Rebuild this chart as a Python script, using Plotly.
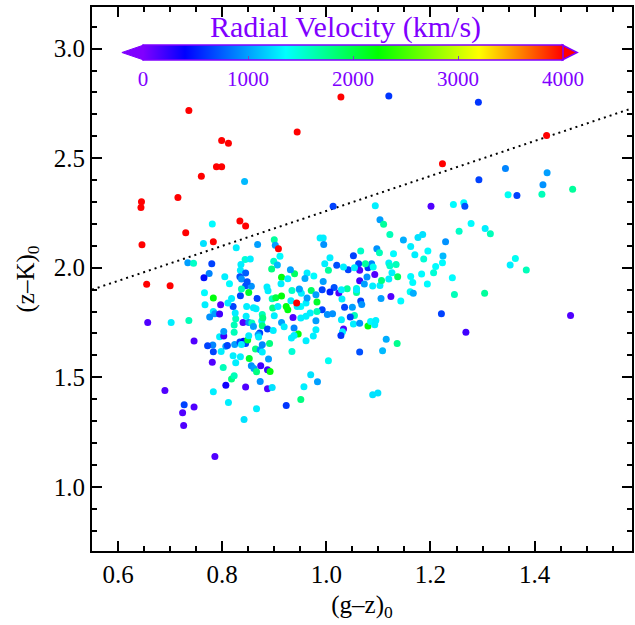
import plotly.graph_objects as go

# ---------------- data: (g-z)_0, (z-K)_0, radial velocity (km/s) ----------------
red_gz = [1.028, 0.736, 0.944, 0.799, 0.812, 0.789, 0.799, 0.760, 0.645, 0.715, 0.644,
          0.834, 0.845, 0.730, 0.646, 0.783, 0.908, 0.655, 0.700, 0.943, 1.223, 1.423]
red_zk = [2.779, 2.718, 2.620, 2.581, 2.568, 2.461, 2.461, 2.417, 2.301, 2.320, 2.275,
          2.213, 2.190, 2.160, 2.105, 2.119, 2.087, 1.924, 1.918, 1.839, 2.475, 2.604]
red_rv = [4000, 4000, 4000, 4000, 4000, 4000, 4000, 4000, 4000, 4000, 4000,
          4000, 4000, 4000, 4000, 4000, 4000, 4000, 4000, 4000, 4000, 4000]

ur_gz = [1.120, 1.292, 1.344, 1.424, 1.293, 1.416, 1.473, 1.349, 1.366, 1.414,
         1.201, 1.244, 1.264, 1.266, 1.094, 1.103, 1.110, 1.122, 1.278, 1.305,
         1.315, 1.255, 1.148, 1.162, 1.176, 1.185, 1.229, 1.195, 1.170, 1.224,
         1.187, 1.223, 1.210, 1.206, 1.183, 1.162, 1.166, 1.194, 1.242, 1.353,
         1.363, 1.384, 1.161, 1.167, 1.246, 1.304, 1.143, 1.124, 1.105]
ur_zk = [2.784, 2.755, 2.453, 2.434, 2.402, 2.379, 2.358, 2.333, 2.330, 2.335,
         2.280, 2.289, 2.297, 2.280, 2.283, 2.219, 2.198, 2.152, 2.202, 2.179,
         2.155, 2.166, 2.126, 2.097, 2.138, 2.152, 2.119, 2.076, 2.059, 2.053,
         2.040, 2.023, 2.006, 1.977, 1.971, 1.960, 1.933, 1.926, 1.954, 2.012,
         2.042, 1.990, 1.890, 1.883, 1.878, 1.883, 1.848, 1.869, 1.860]
ur_rv = [600, 600, 900, 1000, 650, 950, 1700, 1400, 650, 1600,
         150, 1350, 1350, 700, 1300, 1000, 1700, 1600, 1350, 1300,
         1600, 1550, 1050, 1300, 1250, 1250, 950, 1350, 1300, 1100,
         1500, 1350, 1350, 1500, 1350, 1350, 1350, 1350, 1350, 1300,
         1400, 1600, 1400, 1050, 1600, 1700, 1350, 150, 1000]

lr_gz = [1.469, 1.221, 1.268, 1.115, 1.136, 1.064, 1.108, 1.089, 1.099, 1.064,
         1.058, 1.058, 1.073, 1.089, 1.103, 1.050, 1.054, 1.066, 1.068, 1.046,
         1.052, 1.064, 1.080, 1.085, 1.093, 1.095, 1.035, 1.029, 1.033, 1.031, 1.028]
lr_zk = [1.782, 1.790, 1.705, 1.673, 1.654, 1.615, 1.621, 1.420, 1.428, 1.941,
         1.905, 1.887, 1.926, 1.917, 1.919, 1.819, 1.782, 1.848, 1.832, 1.775,
         1.743, 1.746, 1.734, 1.755, 1.740, 1.759, 1.820, 1.763, 1.720, 1.708, 1.691]
lr_rv = [150, 650, 200, 1050, 1750, 700, 1100, 1250, 1250, 200,
         1550, 1700, 1000, 1300, 1300, 1000, 1600, 650, 950, 650,
         1300, 950, 2200, 1350, 1300, 1300, 650, 1300, 150, 1300, 600]

ll_gz = [0.657, 0.702, 0.736, 0.746, 0.690, 0.727, 0.746, 0.724, 0.726, 0.786,
         0.783, 0.812, 0.842, 0.866, 0.923, 0.951, 0.983, 0.957, 0.970, 1.004]
ll_zk = [1.750, 1.750, 1.759, 1.665, 1.440, 1.374, 1.364, 1.338, 1.280, 1.138,
         1.434, 1.385, 1.307, 1.356, 1.371, 1.399, 1.479, 1.457, 1.511, 1.575]
ll_rv = [150, 1300, 1600, 150, 150, 650, 150, 150, 150, 150,
         1300, 1300, 1250, 1300, 600, 1800, 1000, 1300, 1250, 1400]

lm_gz = [0.807, 0.845, 0.887, 0.896, 0.873, 0.818, 0.823, 0.802, 0.826, 0.781,
         0.852, 0.856, 0.861, 0.866, 0.874, 0.887, 0.892, 0.889, 0.864, 0.873,
         0.877, 0.877, 0.891, 0.934, 0.835, 0.821, 0.798, 0.783, 0.782, 0.772,
         0.795, 0.803, 0.803, 0.807, 0.810, 0.824, 0.834, 0.841, 0.845, 0.837,
         0.849, 0.851, 0.823, 0.823, 0.826, 0.825, 0.840, 0.846, 0.851, 0.857,
         0.860, 0.872, 0.869, 0.870, 0.876, 0.877, 0.877, 0.887, 0.898, 0.914,
         0.919, 0.938, 0.936, 0.946, 0.933, 0.961, 0.975, 0.980, 0.980]
lm_zk = [1.464, 1.455, 1.447, 1.453, 1.481, 1.492, 1.507, 1.545, 1.566, 1.568,
         1.586, 1.553, 1.540, 1.525, 1.553, 1.534, 1.526, 1.583, 1.629, 1.626,
         1.615, 1.648, 1.654, 1.618, 1.594, 1.598, 1.618, 1.616, 1.647, 1.644,
         1.685, 1.688, 1.709, 1.641, 1.645, 1.650, 1.661, 1.664, 1.654, 1.650,
         1.670, 1.690, 1.705, 1.738, 1.767, 1.793, 1.750, 1.778, 1.750, 1.748,
         1.732, 1.702, 1.694, 1.684, 1.757, 1.787, 1.735, 1.720, 1.714, 1.750,
         1.731, 1.725, 1.773, 1.697, 1.679, 1.667, 1.688, 1.717, 1.758]
lm_rv = [350, 150, 150, 1250, 950, 1800, 1600, 1600, 1300, 150,
         2100, 950, 1000, 1800, 200, 200, 2200, 1000, 1800, 950,
         1300, 900, 1800, 1500, 1300, 1300, 1300, 650, 900, 650,
         1300, 200, 1000, 1000, 650, 1000, 650, 400, 650, 1300,
         2100, 1300, 1600, 1600, 1600, 1300, 150, 1300, 950, 1600,
         1000, 650, 1000, 1300, 1300, 1600, 1800, 650, 1300, 1000,
         1300, 900, 150, 2200, 1300, 1300, 1300, 1300, 1000]

cl_gz = [0.767, 0.797, 0.783, 0.786, 0.776, 0.795, 0.821, 0.811, 0.847, 0.865,
         0.878, 0.900, 0.897, 0.923, 0.926, 0.938, 0.951, 0.961, 0.992, 1.002,
         0.969, 0.982, 1.012, 0.961, 0.951]
cl_zk = [1.831, 1.831, 1.800, 1.790, 1.775, 1.789, 1.823, 1.839, 1.823, 1.813,
         1.770, 1.781, 1.816, 1.823, 1.808, 1.691, 1.770, 1.778, 1.808, 1.787,
         1.793, 1.800, 1.790, 1.839, 1.823]
cl_rv = [1300, 150, 1300, 1000, 950, 200, 650, 1300, 1300, 1300,
         1800, 1300, 1800, 2200, 2200, 1300, 1300, 1300, 650, 950,
         1300, 1600, 950, 1300, 1350]

cu_gz = [0.843, 1.013, 0.781, 0.764, 0.827, 0.868, 0.900, 0.902, 0.911, 0.899,
         0.906, 0.895, 0.914, 0.939, 0.931, 0.963, 0.959, 0.976, 0.988, 0.994,
         0.995, 1.007, 1.020, 1.004, 0.994, 1.015, 1.007, 1.024, 0.734, 0.745,
         0.780, 0.775, 0.765, 0.844, 0.854, 0.836, 0.835, 0.845, 0.834, 0.837,
         0.805, 0.814, 0.783, 0.766, 0.835, 0.845, 0.837, 0.856, 0.851, 0.848,
         0.867, 0.818, 0.860, 0.886, 0.888, 0.896, 0.903, 0.914, 0.913, 0.934,
         0.949, 0.952, 0.971, 0.980, 0.982, 0.963, 0.932, 0.926, 0.948, 1.040,
         1.029, 0.944, 0.997, 0.992, 0.907]
cu_zk = [2.394, 2.280, 2.200, 2.111, 2.091, 2.106, 2.128, 2.102, 2.052, 2.029,
         2.012, 1.994, 1.956, 1.973, 1.991, 1.976, 1.951, 1.962, 2.136, 2.136,
         2.106, 2.046, 2.011, 1.988, 1.937, 1.910, 1.889, 1.885, 2.023, 2.020,
         2.018, 1.974, 1.954, 2.037, 2.040, 2.015, 1.988, 1.976, 1.959, 1.948,
         1.959, 1.927, 1.862, 1.886, 1.872, 1.918, 1.903, 1.915, 1.887, 1.936,
         1.860, 1.860, 1.817, 1.912, 1.895, 1.858, 1.863, 1.871, 1.927, 1.896,
         1.898, 1.884, 1.896, 1.877, 1.843, 1.862, 1.849, 1.950, 1.903, 1.904,
         1.900, 1.823, 2.018, 1.900, 1.823]
cu_rv = [1100, 650, 1350, 1250, 1300, 1000, 1700, 1000, 1350, 1550,
         1100, 1800, 2200, 1900, 1000, 1300, 1050, 1350, 1300, 1300,
         950, 1300, 700, 1700, 1000, 700, 500, 150, 1000, 1550,
         650, 900, 450, 1500, 1300, 1300, 1300, 750, 700, 950,
         1300, 1350, 2200, 1350, 650, 700, 1600, 950, 2100, 700,
         650, 1300, 1300, 1300, 1300, 1600, 2000, 2200, 1300, 1550,
         1350, 1300, 1900, 1000, 2100, 1000, 1300, 1300, 1000, 1700,
         1300, 1300, 1300, 650, 1300]

cr_gz = [1.066, 1.097, 1.102, 1.129, 1.052, 1.120, 1.134, 1.122, 1.126, 1.137,
         1.120, 1.106, 1.093, 1.064, 1.080, 1.087, 1.075, 1.062, 1.042, 1.033,
         1.078, 1.058, 1.090, 1.054, 1.030]
cr_zk = [2.076, 2.087, 2.068, 2.064, 2.055, 2.021, 2.015, 2.009, 1.977, 1.959,
         1.948, 1.942, 1.969, 1.988, 2.000, 2.018, 2.018, 2.018, 1.991, 2.003,
         1.958, 1.900, 2.003, 2.000, 1.857]
cr_rv = [1550, 950, 1600, 1350, 650, 1300, 1600, 1550, 1300, 1900,
         1300, 1800, 150, 150, 600, 900, 1700, 650, 650, 1300,
         950, 1300, 1400, 1300, 1300]

# dividing line
line_gz = [0.55, 1.59]
line_zk = [1.90, 2.73]

# ticks
x_ticks = [0.6, 0.8, 1.0, 1.2, 1.4]
y_ticks = [1.0, 1.5, 2.0, 2.5, 3.0]
cb_ticks = [0, 1000, 2000, 3000, 4000]
cb_minor = [500, 1500, 2500, 3500]
CB_MIN, CB_MAX = 0, 4000

groups = [(red_gz, red_zk, red_rv), (ur_gz, ur_zk, ur_rv), (lr_gz, lr_zk, lr_rv),
          (ll_gz, ll_zk, ll_rv), (lm_gz, lm_zk, lm_rv), (cl_gz, cl_zk, cl_rv),
          (cu_gz, cu_zk, cu_rv), (cr_gz, cr_zk, cr_rv)]
gz, zk, rv = [], [], []
for a, b, c in groups[1:] + groups[:1]:
    assert len(a) == len(b) == len(c)
    gz += a; zk += b; rv += c

# ---------------- styling ----------------
FONT = "Liberation Serif, Times New Roman, Times, serif"
PURPLE = "#8000ff"
cscale = [[0.0, "#8000ff"], [0.1, "#0000ff"], [0.34, "#00ffff"],
          [0.56, "#00ff00"], [0.8, "#ffff00"], [1.0, "#ff0000"]]

W, H = 635, 625
ML, MR, MT, MB = 92, 1, 7, 74
PW, PH = W - ML - MR, H - MT - MB


def paper(px, py):
    return (px - ML) / PW, (H - MB - py) / PH


# colorbar geometry (pixels)
CB_L, CB_R, CB_T, CB_B = 144, 564, 45, 60
cb_cx, _ = paper((CB_L + CB_R) / 2, 0)
_, cb_top = paper(0, CB_T)

fig = go.Figure()
fig.add_trace(go.Scatter(x=line_gz, y=line_zk, mode="lines",
                         line=dict(color="black", width=2, dash="2px,4px"),
                         hoverinfo="skip", showlegend=False))
fig.add_trace(go.Scatter(
    x=gz, y=zk, mode="markers", showlegend=False,
    marker=dict(size=7, color=rv, colorscale=cscale, cmin=CB_MIN, cmax=CB_MAX,
                line=dict(width=0),
                colorbar=dict(orientation="h", x=cb_cx, xanchor="center",
                              y=cb_top, yanchor="top",
                              lenmode="pixels", len=CB_R - CB_L,
                              thickness=CB_B - CB_T, xpad=0, ypad=0,
                              outlinecolor=PURPLE, outlinewidth=1.5,
                              tickvals=cb_ticks,
                              ticks="inside", ticklen=4, tickcolor="#7a40c0",
                              tickfont=dict(family=FONT, size=21, color=PURPLE)))))

# small intermediate ticks inside the colorbar
for v in cb_minor:
    fx, _ = paper(CB_L + (v - CB_MIN) / (CB_MAX - CB_MIN) * (CB_R - CB_L), 0)
    _, fy0 = paper(0, CB_B)
    _, fy1 = paper(0, CB_B - 4)
    fig.add_shape(type="line", xref="paper", yref="paper", x0=fx, x1=fx, y0=fy0, y1=fy1,
                  line=dict(color="#7a40c0", width=1))

# arrow heads of the colorbar
lx0, ly0 = paper(CB_L, CB_T)
lx1, ly1 = paper(CB_L, CB_B)
ltx, lty = paper(CB_L - 22, (CB_T + CB_B) / 2)
rx0, ry0 = paper(CB_R, CB_T)
rx1, ry1 = paper(CB_R, CB_B)
rtx, rty = paper(CB_R + 15, (CB_T + CB_B) / 2)
fig.add_shape(type="path", xref="paper", yref="paper",
              path=f"M {lx0},{ly0} L {ltx},{lty} L {lx1},{ly1} Z",
              fillcolor=PURPLE, line=dict(color=PURPLE, width=1))
fig.add_shape(type="path", xref="paper", yref="paper",
              path=f"M {rx0},{ry0} L {rtx},{rty} L {rx1},{ry1} Z",
              fillcolor="#ff0000", line=dict(color=PURPLE, width=1.5))

tx, ty = paper(346, 27)
fig.add_annotation(x=tx, y=ty, xref="paper", yref="paper", showarrow=False,
                   text="Radial Velocity (km/s)", xanchor="center", yanchor="middle",
                   font=dict(family=FONT, size=30, color=PURPLE))

axis_common = dict(showgrid=False, zeroline=False, showline=True, linewidth=2,
                   linecolor="black", mirror="allticks", ticks="inside",
                   ticklen=10, tickwidth=1.5, tickcolor="black",
                   tickfont=dict(family=FONT, size=25, color="black"),
                   tickformat=".1f")

fig.update_layout(
    width=W, height=H, margin=dict(l=ML, r=MR, t=MT, b=MB, pad=0),
    paper_bgcolor="white", plot_bgcolor="white",
    font=dict(family=FONT, color="black"),
    xaxis=dict(range=[0.55, 1.587], tickvals=x_ticks,
               minor=dict(ticks="inside", dtick=0.05, tick0=0.6, ticklen=5,
                          tickwidth=1.5, tickcolor="black", showgrid=False),
               title=dict(text="(g–z)<sub>0</sub>", standoff=8,
                          font=dict(family=FONT, size=25)),
               **axis_common),
    yaxis=dict(range=[0.707, 3.19], tickvals=y_ticks,
               minor=dict(ticks="inside", dtick=0.1, tick0=1.0, ticklen=5,
                          tickwidth=1.5, tickcolor="black", showgrid=False),
               title=dict(text="(z–K)<sub>0</sub>", standoff=12,
                          font=dict(family=FONT, size=25)),
               **axis_common),
)

fig.write_html("out.html")
